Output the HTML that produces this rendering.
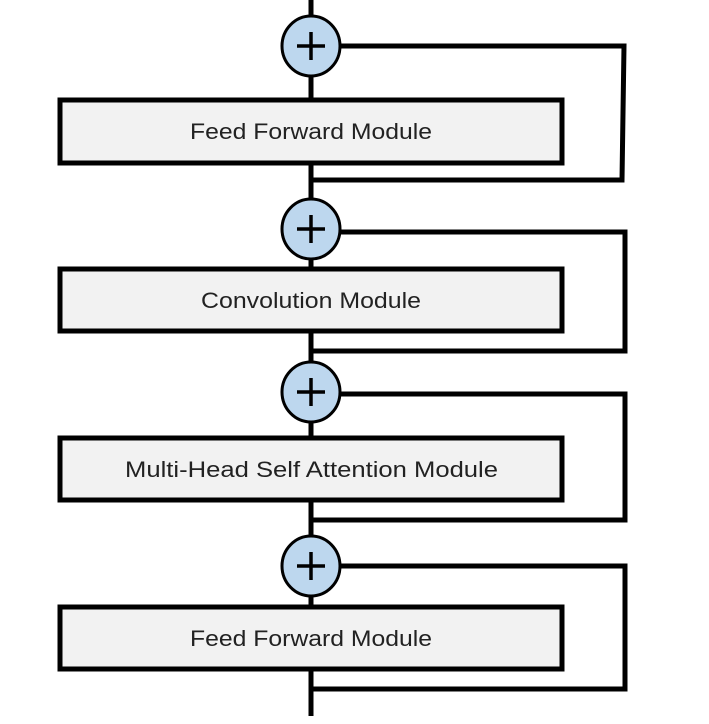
<!DOCTYPE html>
<html><head><style>body{margin:0;background:#fff}</style></head><body>
<svg width="709" height="719" viewBox="0 0 709 719" xmlns="http://www.w3.org/2000/svg">
<g stroke="#000" stroke-width="5" fill="none">
<line x1="311" y1="0" x2="311" y2="716"/>
<polyline points="340,46 624,46 622,180 311,180"/>
<polyline points="340,232 625,232 625,351 311,351"/>
<polyline points="340,394 625,394 625,520 311,520"/>
<polyline points="340,566 625,566 625,689 311,689"/>
</g>
<g stroke="#000" stroke-width="5" fill="#f2f2f2">
<rect x="60" y="100" width="502" height="63"/>
<rect x="60" y="269" width="502" height="62"/>
<rect x="60" y="438" width="502" height="62"/>
<rect x="60" y="607" width="502" height="62"/>
</g>
<g stroke="#000" stroke-width="3" fill="#bdd7ee">
<ellipse cx="311" cy="46" rx="29" ry="30"/>
<ellipse cx="311" cy="229" rx="29" ry="30"/>
<ellipse cx="311" cy="392" rx="29" ry="30"/>
<ellipse cx="311" cy="566" rx="29" ry="30"/>
</g>
<g stroke="#000" stroke-width="3.5">
<line x1="297" y1="46" x2="325" y2="46"/><line x1="311" y1="32" x2="311" y2="60"/>
<line x1="297" y1="229" x2="325" y2="229"/><line x1="311" y1="215" x2="311" y2="243"/>
<line x1="297" y1="392" x2="325" y2="392"/><line x1="311" y1="378" x2="311" y2="406"/>
<line x1="297" y1="566" x2="325" y2="566"/><line x1="311" y1="552" x2="311" y2="580"/>
</g>
<g font-family="Liberation Sans, sans-serif" font-size="22" fill="#222">
<text x="190" y="139" textLength="242" lengthAdjust="spacingAndGlyphs">Feed Forward Module</text>
<text x="201" y="308" textLength="220" lengthAdjust="spacingAndGlyphs">Convolution Module</text>
<text x="125" y="477" textLength="373" lengthAdjust="spacingAndGlyphs">Multi-Head Self Attention Module</text>
<text x="190" y="646" textLength="242" lengthAdjust="spacingAndGlyphs">Feed Forward Module</text>
</g>
</svg>
</body></html>
